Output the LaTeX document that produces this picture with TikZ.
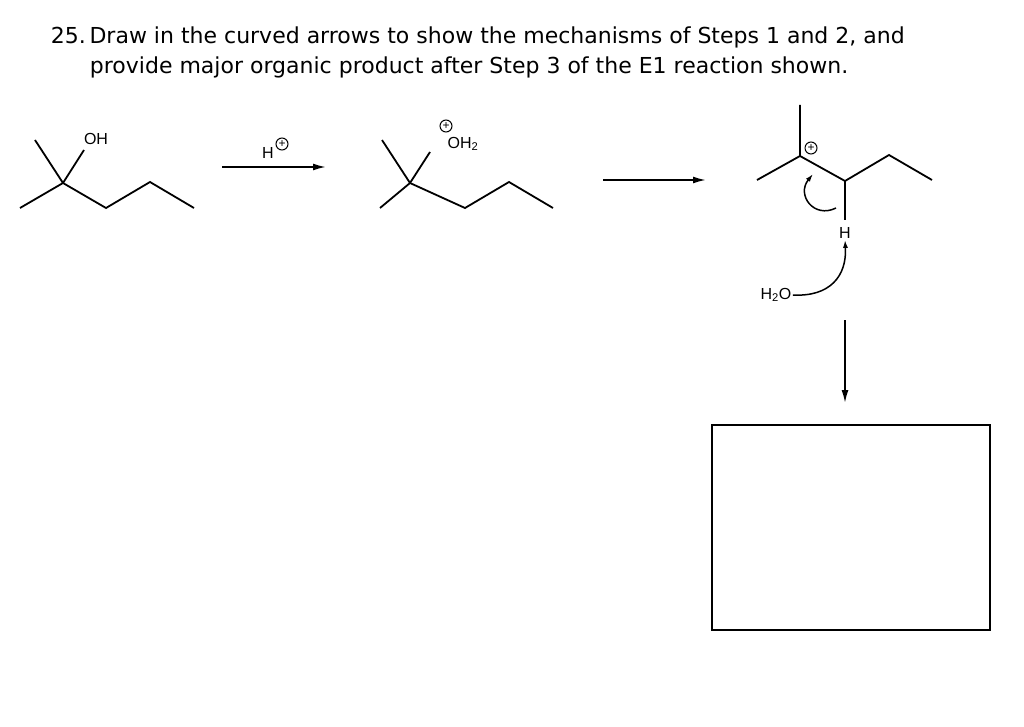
\documentclass[tikz,border=0pt]{standalone}
\usepackage{fontspec}
\setmainfont{DejaVu Sans}
\newfontfamily\lab{Liberation Sans}
\usetikzlibrary{arrows.meta}
\begin{document}
\begin{tikzpicture}[x=1pt,y=-1pt,line width=1.8pt,
  bond/.style={line width=1.8pt},
  rxn/.style={line width=1.8pt,-{Latex[length=13pt,width=7pt]}},
  lbl/.style={font=\lab\fontsize{16}{16}\selectfont,inner sep=0.5pt},
  chg/.style={circle,draw,line width=1pt,inner sep=0pt,minimum size=12pt,font=\lab\fontsize{12}{12}\selectfont}]
\useasboundingbox (0,0) rectangle (1024,727);
\node[anchor=west,font=\fontsize{22}{30}\selectfont,align=left,inner sep=0pt] (title) at (50,52)
 {25.\,Draw in the curved arrows to show the mechanisms of Steps 1 and 2, and\\
 \hspace*{39pt}provide major organic product after Step 3 of the E1 reaction shown.};
% molecule 1
\coordinate (a1) at (35,140); \coordinate (a2) at (63,183); \coordinate (a3) at (20,208);
\coordinate (a4) at (106,208); \coordinate (a5) at (150,182); \coordinate (a6) at (194,208);
\node[lbl] (oh1) at (96,139) {OH};
\draw[bond] (a1)--(a2)--(a3) (a2)--(a4)--(a5)--(a6);
\draw[bond] (a2)--(84,150);
% arrow 1
\coordinate (r1s) at (222,167); \coordinate (r1e) at (326,167);
\draw[rxn] (r1s)--(r1e);
\node[lbl] (hp) at (268,153) {H};
\node[chg] (hpc) at (282,144) {+};
% molecule 2
\coordinate (b1) at (382,140); \coordinate (b2) at (410,183); \coordinate (b3) at (380,208);
\coordinate (b4) at (465,208); \coordinate (b5) at (509,182); \coordinate (b6) at (553,208);
\node[lbl] (oh2) at (463,144) {OH\textsubscript{2}};
\node[chg] (ohc) at (446,126) {+};
\draw[bond] (b1)--(b2)--(b3) (b2)--(b4)--(b5)--(b6);
\draw[bond] (b2)--(430,152);
% arrow 2
\draw[rxn] (603,180)--(706,180);
% carbocation
\coordinate (c1) at (800,105); \coordinate (c2) at (800,156); \coordinate (c3) at (757,180);
\coordinate (c4) at (845,181); \coordinate (c5) at (889,155); \coordinate (c6) at (932,180);
\coordinate (ch) at (845,220);
\draw[bond] (c1)--(c2)--(c3) (c2)--(c4)--(c5)--(c6) (c4)--(ch);
\node[chg] (cc) at (811,148) {+};
\node[lbl] (hl) at (845,233) {H};
\draw[line width=1.5pt,-{Latex[length=8pt,width=5pt]}] (836,208) .. controls (814,219) and (796,195) .. (813,174);
\node[lbl] (h2o) at (776,295) {H\textsubscript{2}O};
\draw[line width=1.5pt,-{Latex[length=8pt,width=5pt]}] (h2o.east) .. controls (830,297) and (847,276) .. (hl.south);
% arrow 3
\draw[rxn] (845,320)--(845,403);
\draw[line width=1.8pt] (712,425) rectangle (990,630);
\end{tikzpicture}
\end{document}
